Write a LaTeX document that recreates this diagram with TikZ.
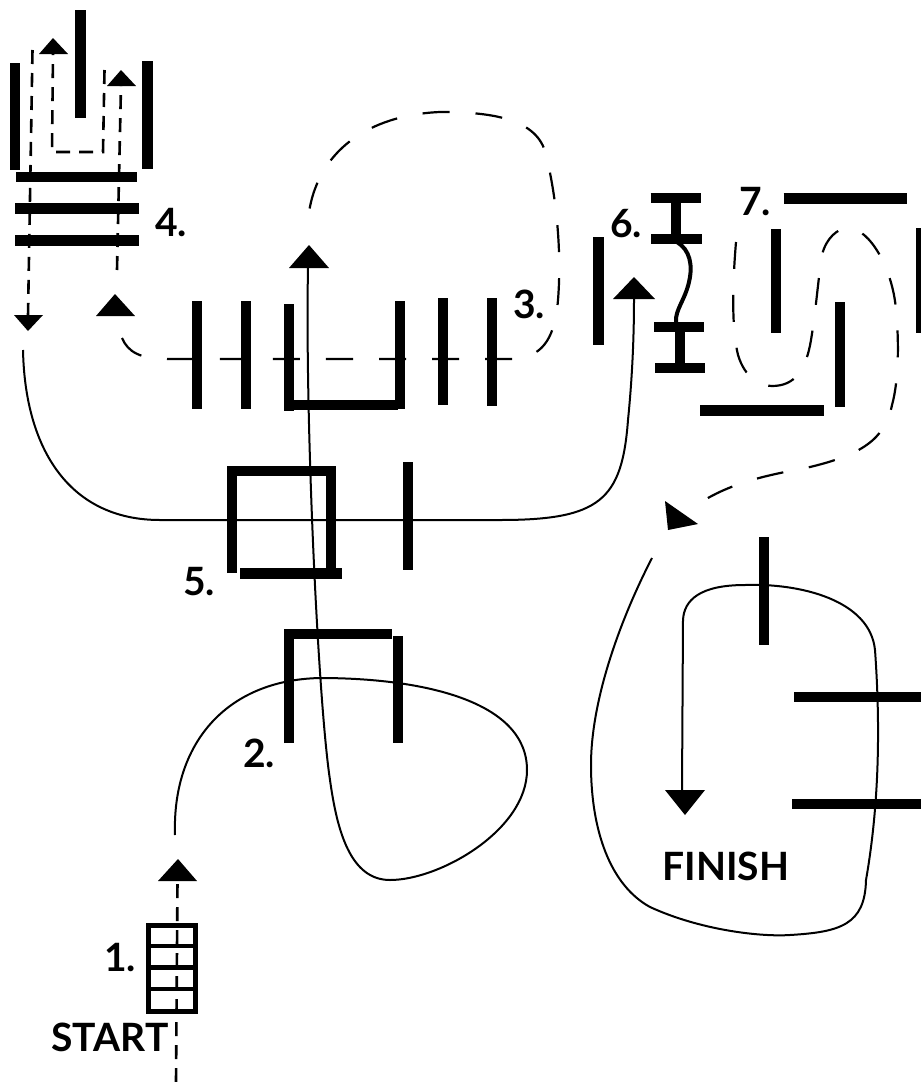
\documentclass[tikz,border=0pt]{standalone}
\usepackage{fontspec}
\setmainfont{Lato}
\usetikzlibrary{calc,positioning}
\tikzset{
  wall/.style={line width=10.5pt,line cap=butt},
  rt/.style={line width=2pt},
  rtd/.style={line width=2.2pt,dash pattern=on 27pt off 26pt},
  rts/.style={line width=2.6pt,dash pattern=on 14pt off 9pt},
  head/.style={fill=black},
  lab/.style={font=\fontsize{39}{39}\selectfont\bfseries,inner sep=0pt}
}
\begin{document}
\begin{tikzpicture}[x=1pt,y=-1pt]
\useasboundingbox (0,0) rectangle (921,1082);
% ladder at the start
\draw[line width=5pt] (148,925) rectangle (195.5,1011);
\foreach \yy in {946,967.7,989}{\draw[line width=4.5pt] (148,\yy)--(195.5,\yy);}
\draw[rts] (176,1082)--(177.5,881);
\fill[head] (158,881)--(197,881)--(178,859)--cycle;
\node[lab] (labstart) at (110,1037) {START};
\node[lab] (labone) at (120,958) {1.};
% gate pairs in the middle
\draw[wall] (289,743)--(289,635);
\draw[wall] (284,634)--(392,634);
\draw[wall] (398,636)--(398,743);
\node[lab] (labtwo) at (259,753) {2.};
\draw[wall] (232,573)--(232,467);
\draw[wall] (227,471)--(336,471);
\draw[wall] (331,467)--(331,570);
\draw[wall] (240,573.5)--(342,573.5);
\draw[wall] (408,462)--(408,570);
\node[lab] (labfive) at (199,582) {5.};
% row of gates
\draw[wall] (197,301)--(197,409);
\draw[wall] (246,301)--(246,409);
\draw[wall] (289,304)--(289,411);
\draw[wall] (285,405)--(398,405);
\draw[wall] (400,301)--(400,409);
\draw[wall] (443,298)--(443,405);
\draw[wall] (492,298)--(492,406);
\node[lab] (labthree) at (529,304) {3.};
% top left box
\draw[wall] (15,63)--(15,170);
\draw[wall] (80.5,10)--(80.5,118);
\draw[wall] (147.5,61)--(147.5,169);
\draw[wall] (16,177)--(137,177);
\draw[wall] (15,208.5)--(139,208.5);
\draw[wall] (15,240.5)--(139,240.5);
\node[lab] (labfour) at (171,223) {4.};
\draw[rts] (32.5,50)--(28,316);
\fill[head] (14,315)--(43,315)--(28,331)--cycle;
\draw[rts] (117,270)--(121,86);
\fill[head] (107,86)--(136,86)--(121,70)--cycle;
\draw[rts] (104.5,70)--(103,152)--(52,152)--(53,54);
\fill[head] (39,54)--(68,54)--(53,38)--cycle;
% long dashed loop
\fill[head] (96,316)--(135,316)--(115,294)--cycle;
\draw[rtd] (122,338) .. controls (128,352) and (140,359) .. (168,359) -- (517,359)
  .. controls (545,355) and (555,335) .. (558,300)
  .. controls (562,250) and (556,195) .. (546,155)
  .. controls (538,118) and (490,112) .. (440,112)
  .. controls (370,115) and (315,150) .. (308,220);
% solid line from the start
\fill[head] (289,268)--(329,268)--(309,245)--cycle;
\draw[rt] (175,835) .. controls (172,745) and (225,680) .. (320,678)
  .. controls (420,678) and (527,700) .. (527,770)
  .. controls (527,830) and (440,880) .. (390,880)
  .. controls (350,880) and (337,830) .. (330,780)
  .. controls (318,700) and (305,420) .. (308,268);
% solid line to the right
\fill[head] (613,299)--(655,299)--(634,277)--cycle;
\draw[rt] (23,350) .. controls (25,450) and (70,520) .. (160,520) -- (500,520)
  .. controls (600,520) and (622,500) .. (628,420)
  .. controls (632,380) and (634,340) .. (634,299);
% gate 6
\draw[wall] (598.5,237)--(598.5,345);
\draw[wall] (650.5,198)--(700.5,198);
\draw[wall] (676,198)--(676,239);
\draw[wall] (651,239)--(702,239);
\draw[wall] (654,327)--(704,327);
\draw[wall] (680,327)--(680,368);
\draw[wall] (655,368)--(705,368);
\draw[line width=4pt] (677,242) .. controls (690,250) and (693,265) .. (689,282)
  .. controls (685,300) and (675,310) .. (676,322);
\node[lab] (labsix) at (626,224) {6.};
% gate 7
\draw[wall] (783.5,198.5)--(907,198.5);
\draw[wall] (776,229)--(776,333);
\draw[wall] (840,302)--(840,407);
\draw[wall] (700,410.5)--(823.5,410.5);
\draw[wall] (921.5,228)--(921.5,333);
\node[lab] (labseven) at (755,202) {7.};
\draw[rtd] (736,242) .. controls (732,290) and (732,330) .. (738,355)
  .. controls (745,378) and (760,386) .. (772,386)
  .. controls (795,386) and (806,370) .. (811,340)
  .. controls (816,310) and (818,280) .. (822,255)
  .. controls (826,238) and (838,228) .. (848,228)
  .. controls (870,228) and (893,270) .. (896,310)
  .. controls (899,340) and (899,380) .. (892,405)
  .. controls (885,440) and (860,455) .. (810,467)
  .. controls (770,475) and (725,482) .. (687,512);
\fill[head] (665,501)--(668,530)--(698,524)--cycle;
% finish loop
\draw[wall] (764,537)--(764,645);
\draw[wall] (794,697)--(921,697);
\draw[wall] (792,804)--(921,804);
\draw[rt] (652,558) .. controls (620,620) and (591,700) .. (591,765)
  .. controls (591,830) and (610,885) .. (650,907)
  .. controls (700,930) and (760,937) .. (790,935)
  .. controls (840,932) and (865,925) .. (866,880)
  .. controls (880,800) and (880,720) .. (875,650)
  .. controls (870,600) and (800,583) .. (745,585)
  .. controls (700,585) and (684,600) .. (683,620) -- (682,790);
\fill[head] (665,790)--(705,790)--(685,815)--cycle;
\node[lab] (labfinish) at (726,866) {FINISH};
\end{tikzpicture}
\end{document}
